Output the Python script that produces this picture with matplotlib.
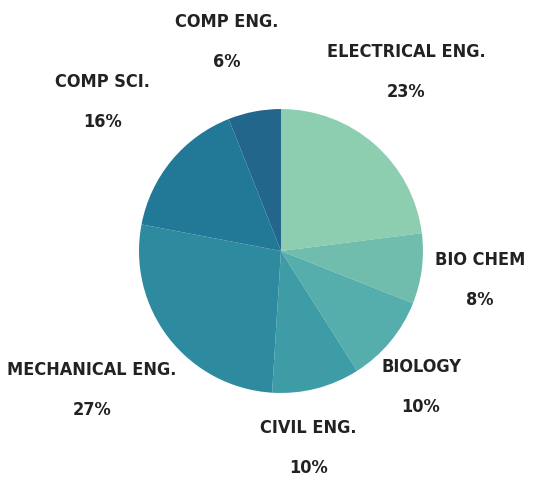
import numpy as np
import matplotlib.pyplot as plt
from matplotlib import font_manager as fm

# department share of students
depts = ['ELECTRICAL ENG.', 'BIO CHEM', 'BIOLOGY', 'CIVIL ENG.',
         'MECHANICAL ENG.', 'COMP SCI.', 'COMP ENG.']
shares = [23, 8, 10, 10, 27, 16, 6]
colors = ['#8dcdb0', '#70bdad', '#55aeab', '#3e9ca6', '#2d8a9f', '#227897', '#23668b']

# label placement: distance from centre (radii) and angle shift from the wedge middle
label_dist = [1.655, 1.403, 1.28, 1.261, 1.573, 1.729, 1.657]
angle_tweak = [9.3, 4.6, 0, -5.7, -5.6, -3.9, 2.5]

# condensed bold face, closest thing to the display font of the original
fp = fm.FontProperties(family='DejaVu Sans', stretch='condensed', weight='bold', size=13)

fig = plt.figure(figsize=(5.57, 4.82), dpi=100)
ax = fig.add_axes([0, 0, 1, 1])
wedges, _ = ax.pie(shares, colors=colors, startangle=90, counterclock=False,
                   wedgeprops=dict(linewidth=0))

for w, name, val, d, t in zip(wedges, depts, shares, label_dist, angle_tweak):
    mid = np.deg2rad((w.theta1 + w.theta2) / 2 + t)
    x, y = d * np.cos(mid), d * np.sin(mid)
    ax.text(x, y, name, ha='center', va='center', fontproperties=fp, color='#222222')
    ax.annotate(f'{val}%', (x, y), xytext=(0, -29), textcoords='offset points',
                ha='center', va='center', fontproperties=fp, color='#222222')

ax.set_xlim(-1.979, 1.944)
ax.set_ylim(-1.627, 1.768)
ax.axis('off')

fig.savefig('out.png', dpi=100)
